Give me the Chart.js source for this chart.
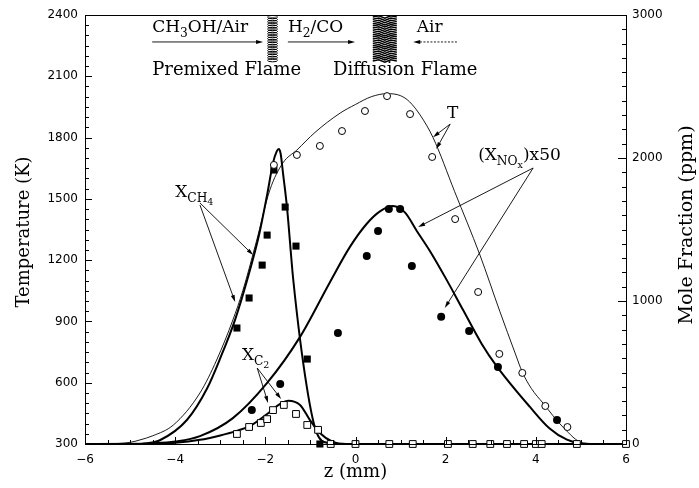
<!DOCTYPE html>
<html>
<head>
<meta charset="utf-8">
<script src="https://cdn.jsdelivr.net/npm/chart.js@4.4.1/dist/chart.umd.min.js"></script>
<style>
html, body { margin: 0; padding: 0; background: #fff; }
</style>
</head>
<body>
<canvas id="flameChart" width="699" height="488"></canvas>
<script>
// Температура: расчёт (тонкая линия) и измерения (пустые кружки)
const tModelZ = [-6, -5.5, -5, -4.78, -4.5, -4.04, -3.45, -3.08, -2.72, -2.5, -2.2, -1.9, -1.61, -1.3, -0.9, -0.34, 0, 0.35, 0.7, 1.0, 1.2, 1.45, 1.72, 2.2, 2.76, 3.2, 3.54, 3.7, 3.9, 4.16, 4.6, 5.05, 5.5, 6];
const tModelK = [300, 301, 308, 320, 340, 393, 550, 711, 907, 1050, 1290, 1543, 1676, 1739, 1825, 1920, 1962, 2000, 2015, 2005, 1975, 1905, 1800, 1535, 1225, 950, 745, 652, 572, 500, 383, 305, 300, 300];
const tDataZ = [-1.81, -1.30, -0.79, -0.30, 0.21, 0.70, 1.21, 1.70, 2.21, 2.72, 3.19, 3.70, 4.21, 4.70];
const tDataK = [1666, 1715, 1759, 1832, 1930, 2003, 1915, 1705, 1401, 1044, 741, 648, 486, 383];

// X_CH4 (ppm)
const ch4ModelZ = [-6, -5, -4.6, -4.33, -3.74, -3.29, -3.0, -2.67, -2.4, -2.14, -1.95, -1.83, -1.75, -1.70, -1.66, -1.61, -1.52, -1.38, -1.08, -0.86, -0.6, -0.3, 6];
const ch4ModelPpm = [0, 0, 6, 28, 168, 390, 600, 870, 1150, 1461, 1760, 1966, 2045, 2063, 2030, 1900, 1657, 1147, 399, 77, 7, 0, 0];
const ch4DataZ = [-2.63, -2.36, -2.07, -1.96, -1.81, -1.56, -1.32, -1.07, -0.79];
const ch4DataPpm = [811, 1021, 1251, 1461, 1916, 1657, 1384, 594, 0];

// X_C2 (ppm)
const c2ModelZ = [-6, -4.5, -4, -3.45, -3.0, -2.63, -2.34, -1.96, -1.67, -1.49, -1.23, -1.01, -0.79, -0.5, -0.2, 6];
const c2ModelPpm = [0, 1, 8, 29, 60, 92, 126, 210, 280, 303, 273, 167, 77, 14, 0, 0];
const c2DataZ = [-2.63, -2.36, -2.10, -1.96, -1.83, -1.59, -1.32, -1.07, -0.83, -0.55, 0, 0.75, 1.27, 2.05, 2.6, 2.99, 3.36, 3.74, 4.0, 4.13, 4.91, 6.0];
const c2DataPpm = [70, 119, 147, 174, 237, 273, 210, 133, 99, 0, 0, 0, 0, 0, 0, 0, 0, 0, 0, 0, 0, 0];

// (X_NOx)x50 (ppm)
const noxModelZ = [-6, -5, -4.5, -4, -3.45, -2.72, -1.96, -1.23, -0.57, -0.12, 0.25, 0.55, 0.83, 1.1, 1.36, 1.65, 2.0, 2.39, 2.8, 3.13, 3.87, 4.3, 4.69, 5.05, 5.5, 6];
const noxModelPpm = [0, 0, 4, 17, 55, 181, 427, 749, 1130, 1380, 1540, 1628, 1664, 1618, 1490, 1350, 1160, 935, 700, 545, 259, 110, 30, 2, 0, 0];
const noxDataZ = [-2.30, -1.67, -0.39, 0.25, 0.50, 0.74, 0.99, 1.25, 1.90, 2.52, 3.16, 4.47];
const noxDataPpm = [237, 420, 776, 1314, 1490, 1643, 1643, 1244, 889, 790, 539, 167];

const xTicks = [-6, -4, -2, 0, 2, 4, 6];
const tempTicks = [300, 600, 900, 1200, 1500, 1800, 2100, 2400];
const ppmTicks = [0, 1000, 2000, 3000];

function pts(zs, vs) {
    return zs.map((z, i) => ({ x: z, y: vs[i] }));
}

const SERIF = '"DejaVu Serif", serif';

// текст с индексами: уровень 0 - обычный, 1 - индекс, 2 - индекс индекса
function richText(ctx, x, y, parts, size) {
    let cx = x;
    parts.forEach(([t, lvl]) => {
        const s = lvl === 0 ? size : lvl === 1 ? size * 0.72 : size * 0.56;
        const dy = lvl === 0 ? 0 : lvl === 1 ? size * 0.28 : size * 0.45;
        ctx.font = s + 'px ' + SERIF;
        ctx.fillText(t, cx, y + dy);
        cx += ctx.measureText(t).width;
    });
}

function arrow(ctx, x1, y1, x2, y2, dash) {
    const ang = Math.atan2(y2 - y1, x2 - x1);
    const len = 7, hw = 2;
    ctx.save();
    if (dash) ctx.setLineDash(dash);
    ctx.beginPath();
    ctx.moveTo(x1, y1);
    ctx.lineTo(x2 - Math.cos(ang) * len * 0.6, y2 - Math.sin(ang) * len * 0.6);
    ctx.stroke();
    ctx.restore();
    ctx.beginPath();
    ctx.moveTo(x2, y2);
    ctx.lineTo(x2 - Math.cos(ang) * len - Math.sin(ang) * hw, y2 - Math.sin(ang) * len + Math.cos(ang) * hw);
    ctx.lineTo(x2 - Math.cos(ang) * len + Math.sin(ang) * hw, y2 - Math.sin(ang) * len - Math.cos(ang) * hw);
    ctx.closePath();
    ctx.fill();
}

const labels = [
    { parts: [['CH', 0], ['3', 1], ['OH/Air', 0]], z: -4.51, t: 2317, size: 17 },
    { parts: [['H', 0], ['2', 1], ['/CO', 0]], z: -1.50, t: 2317, size: 17 },
    { parts: [['Air', 0]], z: 1.36, t: 2317, size: 17 },
    { parts: [['Premixed Flame', 0]], z: -4.51, t: 2106, size: 18 },
    { parts: [['Diffusion Flame', 0]], z: -0.50, t: 2106, size: 18 },
    { parts: [['X', 0], ['CH', 1], ['4', 2]], z: -4.0, t: 1509, size: 17 },
    { parts: [['X', 0], ['C', 1], ['2', 2]], z: -2.52, t: 711, size: 17 },
    { parts: [['T', 0]], z: 2.03, t: 1896, size: 17 },
    { parts: [['(X', 0], ['NO', 1], ['x', 2], [')x50', 0]], z: 2.72, t: 1690, size: 17 }
];

const arrows = [
    [-4.51, 2268, -2.05, 2268],
    [-1.50, 2268, -0.01, 2268],
    [2.25, 2268, 1.28, 2268, [2, 1.5]],
    [-3.45, 1480, -2.27, 1225],
    [-3.45, 1470, -2.67, 995],
    [-2.18, 672, -1.94, 501],
    [-2.18, 672, -1.65, 520],
    [2.10, 1866, 1.72, 1802],
    [2.10, 1866, 1.79, 1744],
    [3.94, 1651, 1.39, 1362],
    [3.94, 1651, 1.98, 966]
];

const decor = {
    id: 'decor',
    afterDatasetsDraw(chart) {
        const { ctx, chartArea: a, scales: { x, y, y1 } } = chart;
        const P = (z, t) => [x.getPixelForValue(z), y.getPixelForValue(t)];
        ctx.save();
        ctx.strokeStyle = '#000';
        ctx.fillStyle = '#000';
        ctx.lineWidth = 1;

        // рамка
        ctx.strokeRect(Math.round(a.left) + 0.5, Math.round(a.top) + 0.5, Math.round(a.right - a.left), Math.round(a.bottom - a.top));

        // засечки внутрь
        ctx.beginPath();
        for (let v = -6; v <= 6.001; v += 0.5) {
            const px = Math.round(x.getPixelForValue(v)) + 0.5;
            const len = Math.abs(v % 2) < 1e-6 ? 7 : 4;
            ctx.moveTo(px, a.bottom);
            ctx.lineTo(px, a.bottom - len);
        }
        for (let v = 300; v <= 2400; v += 50) {
            const py = Math.round(y.getPixelForValue(v)) + 0.5;
            const len = v % 300 === 0 ? 7 : 4;
            ctx.moveTo(a.left, py);
            ctx.lineTo(a.left + len, py);
        }
        for (let v = 0; v <= 3000; v += 100) {
            const py = Math.round(y1.getPixelForValue(v)) + 0.5;
            const len = v % 1000 === 0 ? 8 : 4;
            ctx.moveTo(a.right, py);
            ctx.lineTo(a.right - len, py);
        }
        ctx.stroke();

        // подписи осей
        ctx.textBaseline = 'middle';
        ctx.textAlign = 'center';
        ctx.font = '18px ' + SERIF;
        ctx.fillText('z (mm)', x.getPixelForValue(0), 472);
        ctx.save();
        ctx.translate(24, 232);
        ctx.rotate(-Math.PI / 2);
        ctx.fillText('Temperature (K)', 0, 0);
        ctx.restore();
        ctx.save();
        ctx.translate(687, 225);
        ctx.rotate(-Math.PI / 2);
        ctx.font = '19px ' + SERIF;
        ctx.fillText('Mole Fraction (ppm)', 0, 0);
        ctx.restore();

        // надписи
        ctx.textAlign = 'left';
        ctx.textBaseline = 'alphabetic';
        labels.forEach(l => {
            const [px, py] = P(l.z, l.t);
            richText(ctx, px, py, l.parts, l.size);
        });

        // стрелки
        ctx.lineWidth = 0.9;
        arrows.forEach(([z1, t1, z2, t2, dash]) => {
            const [ax, ay] = P(z1, t1);
            const [bx, by] = P(z2, t2);
            arrow(ctx, ax, ay, bx, by, dash);
        });

        // фронты пламени
        const [pmx, top] = P(-1.84, 2390);
        const bottom = P(-1.84, 2170)[1];
        ctx.lineWidth = 1;
        for (let yy = top; yy <= bottom; yy += 2.4) {
            ctx.beginPath();
            ctx.ellipse(pmx, yy, 5, 1.6, 0, 0, Math.PI * 2);
            ctx.stroke();
        }
        const dfx = P(0.65, 2390)[0];
        ctx.lineWidth = 1.5;
        for (let yy = top; yy <= bottom; yy += 2.2) {
            ctx.beginPath();
            ctx.moveTo(dfx - 12, yy);
            ctx.lineTo(dfx - 6, yy - 1.2);
            ctx.lineTo(dfx, yy + 1.2);
            ctx.lineTo(dfx + 6, yy - 1.2);
            ctx.lineTo(dfx + 12, yy);
            ctx.stroke();
        }
        ctx.restore();
    }
};

const tickFont = { family: 'DejaVu Sans', size: 12 };
const plainTick = v => String(v);

new Chart(document.getElementById('flameChart'), {
    type: 'scatter',
    data: {
        datasets: [
            {
                label: 'T (exp)',
                data: pts(tDataZ, tDataK),
                yAxisID: 'y',
                pointStyle: 'circle',
                pointRadius: 3.5,
                borderWidth: 1,
                borderColor: '#000',
                backgroundColor: '#fff',
                clip: false,
                order: 0
            },
            {
                label: 'X_CH4 (exp)',
                data: pts(ch4DataZ, ch4DataPpm),
                yAxisID: 'y1',
                pointStyle: 'rect',
                pointRadius: 5,
                borderWidth: 0,
                borderColor: '#000',
                backgroundColor: '#000',
                clip: false,
                order: 0
            },
            {
                label: 'X_C2 (exp)',
                data: pts(c2DataZ, c2DataPpm),
                yAxisID: 'y1',
                pointStyle: 'rect',
                pointRadius: 4.8,
                borderWidth: 1,
                borderColor: '#000',
                backgroundColor: '#fff',
                clip: false,
                order: 0
            },
            {
                label: 'X_NOx x50 (exp)',
                data: pts(noxDataZ, noxDataPpm),
                yAxisID: 'y1',
                pointStyle: 'circle',
                pointRadius: 4,
                borderWidth: 0,
                borderColor: '#000',
                backgroundColor: '#000',
                clip: false,
                order: 0
            },
            {
                label: 'T',
                data: pts(tModelZ, tModelK),
                yAxisID: 'y',
                showLine: true,
                pointRadius: 0,
                borderWidth: 0.9,
                borderColor: '#000',
                cubicInterpolationMode: 'monotone',
                order: 1
            },
            {
                label: 'X_CH4',
                data: pts(ch4ModelZ, ch4ModelPpm),
                yAxisID: 'y1',
                showLine: true,
                pointRadius: 0,
                borderWidth: 2,
                borderColor: '#000',
                cubicInterpolationMode: 'monotone',
                order: 1
            },
            {
                label: 'X_C2',
                data: pts(c2ModelZ, c2ModelPpm),
                yAxisID: 'y1',
                showLine: true,
                pointRadius: 0,
                borderWidth: 2,
                borderColor: '#000',
                cubicInterpolationMode: 'monotone',
                order: 1
            },
            {
                label: 'X_NOx x50',
                data: pts(noxModelZ, noxModelPpm),
                yAxisID: 'y1',
                showLine: true,
                pointRadius: 0,
                borderWidth: 2,
                borderColor: '#000',
                cubicInterpolationMode: 'monotone',
                order: 1
            }
        ]
    },
    options: {
        responsive: false,
        animation: false,
        layout: { padding: { top: 15, left: 0, right: 0, bottom: 0 } },
        plugins: {
            legend: { display: false },
            tooltip: { enabled: false }
        },
        scales: {
            x: {
                type: 'linear',
                min: -6,
                max: 6,
                grid: { display: false, drawTicks: false },
                border: { display: false },
                afterBuildTicks: s => { s.ticks = xTicks.map(v => ({ value: v })); },
                ticks: {
                    color: '#000',
                    font: tickFont,
                    padding: 9,
                    maxRotation: 0,
                    callback: v => v < 0 ? '\u2212' + (-v) : String(v)
                },
                afterFit: s => { s.height = 44; }
            },
            y: {
                type: 'linear',
                position: 'left',
                min: 300,
                max: 2400,
                grid: { display: false, drawTicks: false },
                border: { display: false },
                afterBuildTicks: s => { s.ticks = tempTicks.map(v => ({ value: v })); },
                ticks: { color: '#000', font: tickFont, padding: 7, callback: plainTick },
                afterFit: s => { s.width = 85; }
            },
            y1: {
                type: 'linear',
                position: 'right',
                min: 0,
                max: 3000,
                grid: { display: false, drawTicks: false },
                border: { display: false },
                afterBuildTicks: s => { s.ticks = ppmTicks.map(v => ({ value: v })); },
                ticks: { color: '#000', font: tickFont, padding: 6, callback: plainTick },
                afterFit: s => { s.width = 73; }
            }
        }
    },
    plugins: [decor]
});
</script>
</body>
</html>
